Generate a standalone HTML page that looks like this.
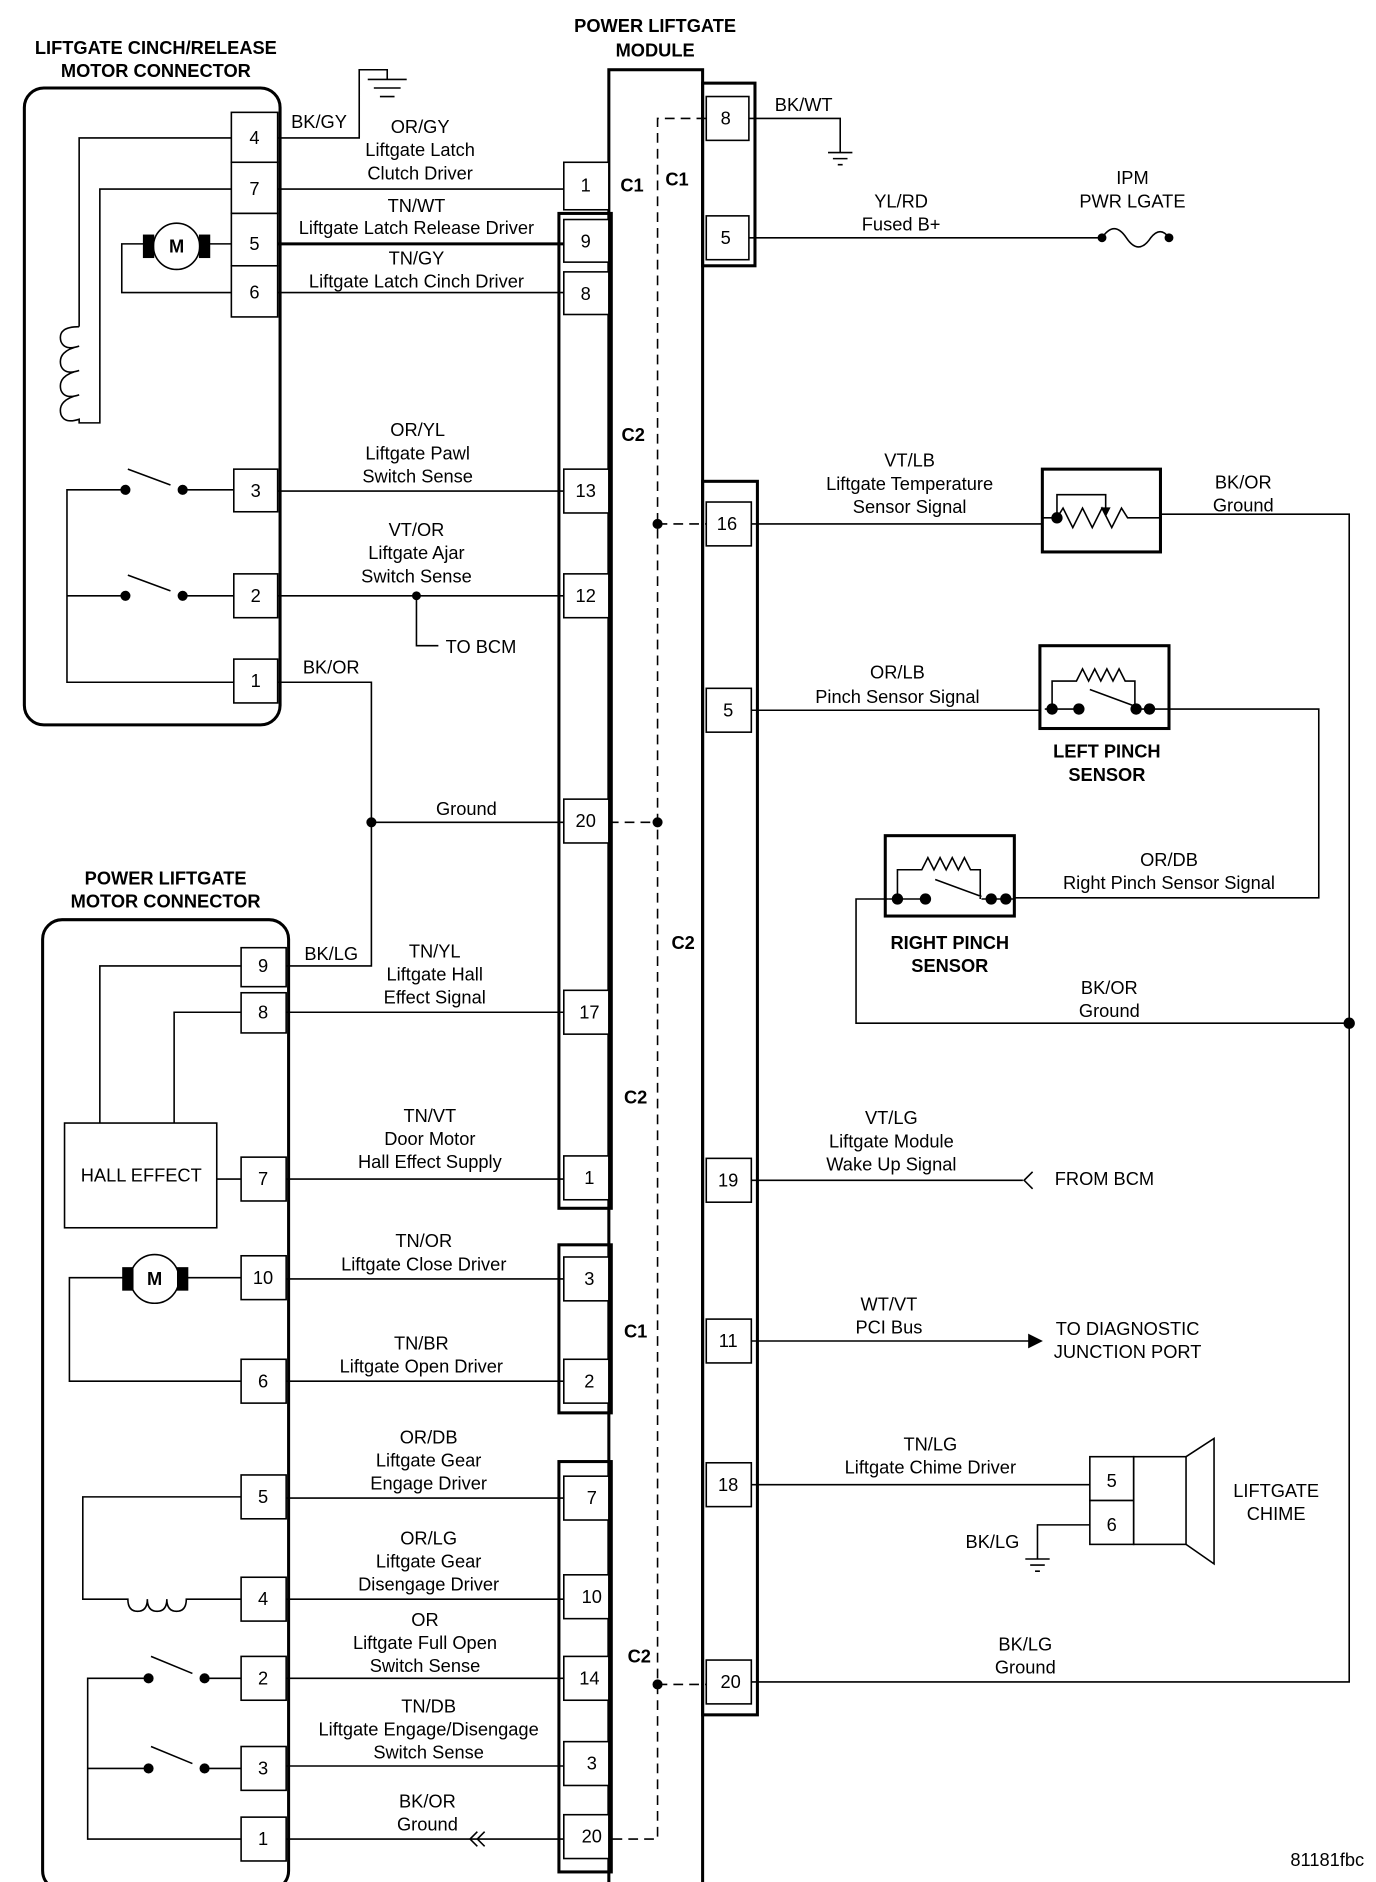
<!DOCTYPE html>
<html><head><meta charset="utf-8"><style>
html,body{margin:0;padding:0;background:#fff}
svg{display:block}
text{font-family:"Liberation Sans",Arial,sans-serif;font-size:15px;fill:#000;text-anchor:middle}
.b{font-weight:bold}
</style></head><body>
<svg width="1376" height="1882" viewBox="0 0 1130 1545" xmlns="http://www.w3.org/2000/svg">
<g fill="none" stroke="#000" stroke-width="1.3">
<!-- top-left connector -->
<rect x="20" y="72" width="210" height="523" rx="16" stroke-width="2.5"/>
<g fill="#fff">
<rect x="190" y="92" width="38" height="41"/><rect x="190" y="133" width="38" height="42"/>
<rect x="190" y="175" width="38" height="43"/><rect x="190" y="218" width="38" height="42"/>
<rect x="192" y="385" width="36" height="35"/><rect x="192" y="471" width="36" height="36"/>
<rect x="192" y="541" width="36" height="36"/>
</g>
<path d="M190 113H65V268"/>
<path d="M65 268 q-18 0 -15 12 q3 8 15 4 q-18 4 -15 16 q3 8 15 4 q-18 4 -15 16 q3 8 15 4 q-18 4 -15 16 q3 8 15 4 V347H82V155H190"/>
<path d="M190 200H172M118 200H100V240H190"/>
<circle cx="145" cy="202" r="19" fill="#fff"/>
<rect x="118" y="193" width="8" height="18" fill="#000"/><rect x="164" y="193" width="8" height="18" fill="#000"/>
<path d="M192 402H150M140 398L105 385M103 402H55V560H192M192 489H150M140 485L105 472M103 489H55"/>
<circle cx="103" cy="402" r="3.5" fill="#000"/><circle cx="150" cy="402" r="3.5" fill="#000"/>
<circle cx="103" cy="489" r="3.5" fill="#000"/><circle cx="150" cy="489" r="3.5" fill="#000"/>
<!-- bottom-left connector -->
<rect x="35" y="755" width="202" height="797" rx="16" stroke-width="2.5"/>
<g fill="#fff">
<rect x="198" y="778" width="37" height="32"/><rect x="198" y="815" width="37" height="33"/>
<rect x="198" y="950" width="37" height="36"/><rect x="198" y="1031" width="37" height="36"/>
<rect x="198" y="1116" width="37" height="36"/><rect x="198" y="1211" width="37" height="36"/>
<rect x="198" y="1295" width="37" height="36"/><rect x="198" y="1360" width="37" height="36"/>
<rect x="198" y="1434" width="37" height="36"/><rect x="198" y="1492" width="37" height="36"/>
</g>
<rect x="53" y="922" width="125" height="86"/>
<path d="M198 793H82V922M198 831H143V922M178 968H198"/>
<path d="M198 1049H148M106 1049H57V1134H198"/>
<circle cx="127" cy="1050" r="20" fill="#fff"/>
<rect x="101" y="1041" width="8" height="18" fill="#000"/><rect x="146" y="1041" width="8" height="18" fill="#000"/>
<path d="M198 1229H68V1313H105 q0 10 8 10 q8 0 8 -10 q0 10 8 10 q8 0 8 -10 q0 10 8 10 q8 0 8 -10 H198"/>
<path d="M198 1378H168M158 1374L124 1360M122 1378H72V1510H198M198 1452H168M158 1448L124 1434M122 1452H72"/>
<circle cx="122" cy="1378" r="3.5" fill="#000"/><circle cx="168" cy="1378" r="3.5" fill="#000"/>
<circle cx="122" cy="1452" r="3.5" fill="#000"/><circle cx="168" cy="1452" r="3.5" fill="#000"/>
<!-- module -->
<rect x="500" y="57" width="77" height="1493" stroke-width="2.5"/>
<rect x="459" y="175" width="43" height="817" stroke-width="2.5"/>
<rect x="459" y="1022" width="43" height="138" stroke-width="2.5"/>
<rect x="459" y="1200" width="43" height="337" stroke-width="2.5"/>
<rect x="577" y="68" width="43" height="150" stroke-width="2.5"/>
<rect x="577" y="395" width="45" height="1013" stroke-width="2.5"/>
<g fill="#fff">
<rect x="463" y="133" width="37" height="39"/>
<rect x="463" y="180" width="37" height="35"/><rect x="463" y="223" width="37" height="35"/>
<rect x="463" y="385" width="37" height="36"/><rect x="463" y="471" width="37" height="36"/>
<rect x="463" y="656" width="37" height="36"/><rect x="463" y="813" width="37" height="36"/>
<rect x="463" y="949" width="37" height="36"/>
<rect x="463" y="1032" width="37" height="36"/><rect x="463" y="1116" width="37" height="36"/>
<rect x="463" y="1212" width="37" height="36"/><rect x="463" y="1293" width="37" height="36"/>
<rect x="463" y="1360" width="37" height="36"/><rect x="463" y="1430" width="37" height="36"/>
<rect x="463" y="1490" width="37" height="36"/>
<rect x="580" y="79" width="35" height="36"/><rect x="580" y="177" width="35" height="36"/>
<rect x="580" y="412" width="37" height="36"/><rect x="580" y="565" width="37" height="36"/>
<rect x="580" y="951" width="37" height="36"/><rect x="580" y="1083" width="37" height="36"/>
<rect x="580" y="1201" width="37" height="36"/><rect x="580" y="1363" width="37" height="36"/>
</g>
<path d="M580 97H540V1510H500M540 430H580M500 675H540M540 1383H580" stroke-dasharray="8,5"/>
<circle cx="540" cy="430" r="3.5" fill="#000"/><circle cx="540" cy="675" r="3.5" fill="#000"/><circle cx="540" cy="1383" r="3.5" fill="#000"/>
<!-- left wires -->
<path d="M228 113H295V57H318V65M302 65H334M307 72H329M312 79H324"/>
<path d="M228 155H463M228 240H463M228 403H463M228 489H463M342 489V530H360M228 560H305V793H235M305 675H463"/>
<path d="M228 200H463" stroke-width="2.5"/>
<circle cx="342" cy="489" r="3" fill="#000"/><circle cx="305" cy="675" r="3.5" fill="#000"/>
<path d="M235 831H463M235 968H463M235 1050H463M235 1134H463M235 1230H463M235 1313H463M235 1378H463M235 1450H463M235 1510H463"/>
<path d="M392 1504L386 1510L392 1516M398 1504L392 1510L398 1516"/>
<!-- right wires -->
<path d="M615 97H690V125M680 125H700M684 130H696M688 135H692"/>
<path d="M615 195H905M905 195 q10 -15 20 0 q10 15 20 0 q8 -10 15 0"/>
<circle cx="905" cy="195" r="3" fill="#000"/><circle cx="960" cy="195" r="3" fill="#000"/>
<path d="M617 430H855M953 422H1108V1381H617M617 583H855M960 582H1083V737H833M730 738H703V840H1108"/>
<circle cx="1108" cy="840" r="4" fill="#000"/>
<rect x="856" y="385" width="97" height="68" stroke-width="2.5"/>
<path d="M855 425H868l5 -8 8 16 8 -16 8 16 8 -16 8 16 8 -16 5 8H953M868 425V406H908V420" />
<path d="M905 417l3 6 3 -6z" fill="#000"/>
<circle cx="868" cy="425" r="4" fill="#000"/>
<rect x="854" y="530" width="106" height="68" stroke-width="2.5"/>
<path d="M858 582h6M864 582V559h20l5 -10 5 10 5 -10 5 10 5 -10 5 10 5 -10 5 10h8V582M895 566L933 580M864 582H886M933 582H960"/>
<circle cx="864" cy="582" r="4" fill="#000"/><circle cx="886" cy="582" r="4" fill="#000"/><circle cx="933" cy="582" r="4" fill="#000"/><circle cx="944" cy="582" r="4" fill="#000"/>
<rect x="727" y="686" width="106" height="66" stroke-width="2.5"/>
<path d="M737 738V714h20l5 -10 5 10 5 -10 5 10 5 -10 5 10 5 -10 5 10h8V738M768 722L806 736M730 738H760M806 738H833"/>
<circle cx="737" cy="738" r="4" fill="#000"/><circle cx="760" cy="738" r="4" fill="#000"/><circle cx="814" cy="738" r="4" fill="#000"/><circle cx="826" cy="738" r="4" fill="#000"/>
<path d="M617 969H840M848 962L841 969L848 976"/>
<path d="M617 1101H845"/><path d="M845 1096L855 1101L845 1106z" fill="#000"/>
<path d="M617 1219H895"/>
<rect x="895" y="1196" width="36" height="36" fill="#fff"/><rect x="895" y="1232" width="36" height="36" fill="#fff"/>
<rect x="931" y="1196" width="43" height="72"/>
<path d="M974 1196L997 1181V1284L974 1268"/>
<path d="M895 1252H852V1280M842 1280H862M846 1285H858M850 1290H854"/>
</g>
<!-- text -->
<text x="128" y="44" class="b">LIFTGATE CINCH/RELEASE</text>
<text x="128" y="63" class="b">MOTOR CONNECTOR</text>
<text x="538" y="26" class="b">POWER LIFTGATE</text>
<text x="538" y="46" class="b">MODULE</text>
<text x="136" y="726" class="b">POWER LIFTGATE</text>
<text x="136" y="745" class="b">MOTOR CONNECTOR</text>
<text x="909" y="622" class="b">LEFT PINCH</text><text x="909" y="641" class="b">SENSOR</text>
<text x="780" y="779" class="b">RIGHT PINCH</text><text x="780" y="798" class="b">SENSOR</text>
<text x="145" y="207" class="b" font-size="13">M</text>
<text x="127" y="1055" class="b" font-size="13">M</text>
<g>
<text x="209" y="118">4</text><text x="209" y="160">7</text><text x="209" y="205">5</text><text x="209" y="245">6</text>
<text x="210" y="408">3</text><text x="210" y="494">2</text><text x="210" y="564">1</text>
<text x="216" y="798">9</text><text x="216" y="836">8</text><text x="216" y="973">7</text><text x="216" y="1054">10</text>
<text x="216" y="1139">6</text><text x="216" y="1234">5</text><text x="216" y="1318">4</text><text x="216" y="1383">2</text>
<text x="216" y="1457">3</text><text x="216" y="1515">1</text>
<text x="481" y="157">1</text><text x="481" y="203">9</text><text x="481" y="246">8</text><text x="481" y="408">13</text>
<text x="481" y="494">12</text><text x="481" y="679">20</text><text x="484" y="836">17</text><text x="484" y="972">1</text>
<text x="484" y="1055">3</text><text x="484" y="1139">2</text><text x="486" y="1235">7</text><text x="486" y="1316">10</text>
<text x="484" y="1383">14</text><text x="486" y="1453">3</text><text x="486" y="1513">20</text>
<text x="596" y="102">8</text><text x="596" y="200">5</text><text x="597" y="435">16</text><text x="598" y="588">5</text>
<text x="598" y="974">19</text><text x="598" y="1106">11</text><text x="598" y="1224">18</text><text x="600" y="1386">20</text>
<text x="913" y="1221">5</text><text x="913" y="1257">6</text>
<text x="519" y="157" class="b">C1</text><text x="556" y="152" class="b">C1</text>
<text x="520" y="362" class="b">C2</text><text x="561" y="779" class="b">C2</text>
<text x="522" y="906" class="b">C2</text><text x="522" y="1098" class="b">C1</text><text x="525" y="1365" class="b">C2</text>
<text x="262" y="105">BK/GY</text>
<text x="345" y="109">OR/GY</text><text x="345" y="128">Liftgate Latch</text><text x="345" y="147">Clutch Driver</text>
<text x="342" y="174">TN/WT</text><text x="342" y="192">Liftgate Latch Release Driver</text>
<text x="342" y="217">TN/GY</text><text x="342" y="236">Liftgate Latch Cinch Driver</text>
<text x="343" y="358">OR/YL</text><text x="343" y="377">Liftgate Pawl</text><text x="343" y="396">Switch Sense</text>
<text x="342" y="440">VT/OR</text><text x="342" y="459">Liftgate Ajar</text><text x="342" y="478">Switch Sense</text>
<text x="395" y="536">TO BCM</text>
<text x="272" y="553">BK/OR</text><text x="383" y="669">Ground</text><text x="272" y="788">BK/LG</text>
<text x="357" y="786">TN/YL</text><text x="357" y="805">Liftgate Hall</text><text x="357" y="824">Effect Signal</text>
<text x="116" y="970">HALL EFFECT</text>
<text x="353" y="921">TN/VT</text><text x="353" y="940">Door Motor</text><text x="353" y="959">Hall Effect Supply</text>
<text x="348" y="1024">TN/OR</text><text x="348" y="1043">Liftgate Close Driver</text>
<text x="346" y="1108">TN/BR</text><text x="346" y="1127">Liftgate Open Driver</text>
<text x="352" y="1185">OR/DB</text><text x="352" y="1204">Liftgate Gear</text><text x="352" y="1223">Engage Driver</text>
<text x="352" y="1268">OR/LG</text><text x="352" y="1287">Liftgate Gear</text><text x="352" y="1306">Disengage Driver</text>
<text x="349" y="1335">OR</text><text x="349" y="1354">Liftgate Full Open</text><text x="349" y="1373">Switch Sense</text>
<text x="352" y="1406">TN/DB</text><text x="352" y="1425">Liftgate Engage/Disengage</text><text x="352" y="1444">Switch Sense</text>
<text x="351" y="1484">BK/OR</text><text x="351" y="1503">Ground</text>
<text x="660" y="91">BK/WT</text>
<text x="740" y="170">YL/RD</text><text x="740" y="189">Fused B+</text>
<text x="930" y="151">IPM</text><text x="930" y="170">PWR LGATE</text>
<text x="747" y="383">VT/LB</text><text x="747" y="402">Liftgate Temperature</text><text x="747" y="421">Sensor Signal</text>
<text x="1021" y="401">BK/OR</text><text x="1021" y="420">Ground</text>
<text x="737" y="557">OR/LB</text><text x="737" y="577">Pinch Sensor Signal</text>
<text x="960" y="711">OR/DB</text><text x="960" y="730">Right Pinch Sensor Signal</text>
<text x="911" y="816">BK/OR</text><text x="911" y="835">Ground</text>
<text x="732" y="923">VT/LG</text><text x="732" y="942">Liftgate Module</text><text x="732" y="961">Wake Up Signal</text>
<text x="907" y="973">FROM BCM</text>
<text x="730" y="1076">WT/VT</text><text x="730" y="1095">PCI Bus</text>
<text x="926" y="1096">TO DIAGNOSTIC</text><text x="926" y="1115">JUNCTION PORT</text>
<text x="764" y="1191">TN/LG</text><text x="764" y="1210">Liftgate Chime Driver</text>
<text x="815" y="1271">BK/LG</text>
<text x="1048" y="1229">LIFTGATE</text><text x="1048" y="1248">CHIME</text>
<text x="842" y="1355">BK/LG</text><text x="842" y="1374">Ground</text>
<text x="1090" y="1532" font-size="11">81181fbc</text>
</g>
</svg>
</body></html>
